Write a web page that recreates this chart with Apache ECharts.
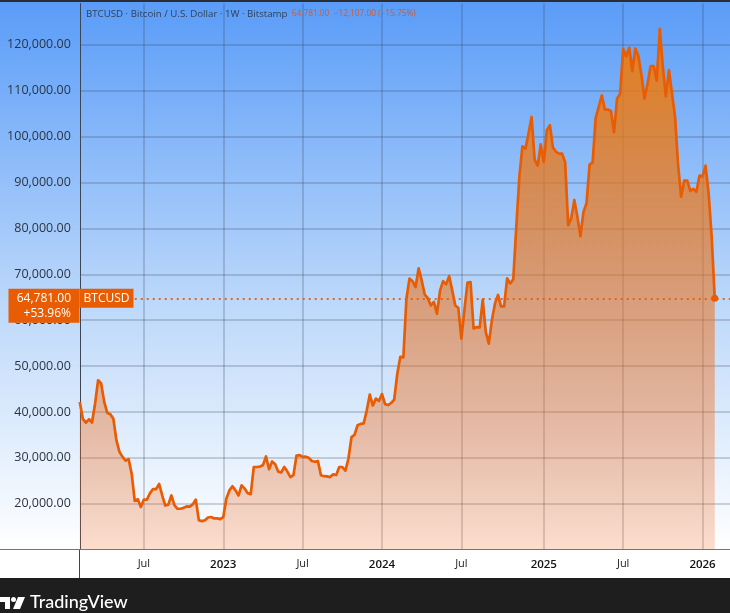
<!DOCTYPE html>
<html>
<head>
<meta charset="utf-8">
<title>BTCUSD</title>
<script src="https://cdn.jsdelivr.net/npm/echarts@6/dist/echarts.min.js"></script>
<style>
html, body { margin: 0; padding: 0; background: #fff; }
#main { width: 730px; height: 613px; }
</style>
</head>
<body>
<div id="main"></div>
<script>
// weekly closes, first bar = week of 2022-02-07
var prices = [
    42170,38500,37660,38400,37700,41800,46900,46200,42200,39800,
    39500,38500,33800,31300,30200,29400,29700,26500,20600,21000,
    19300,20900,20900,22300,23200,23200,24300,21800,19600,19800,
    21800,19700,18900,18900,19100,19400,19350,19850,20900,16400,
    16200,16400,17000,17100,16800,16800,16650,17100,21100,22900,
    23800,22900,21800,24000,23300,22300,22100,28000,28000,28100,
    28400,30300,27500,29200,28600,27000,26800,28000,27000,25800,
    26250,30500,30600,30200,30250,30000,29300,29150,29300,26200,
    26000,25950,25800,26400,26250,28000,28000,27200,29800,34500,
    35000,37100,37400,37500,40300,43800,41400,42900,42400,43900,
    41700,41500,41950,42700,48300,52000,51900,64700,69050,68500,
    67200,71300,68700,65600,64800,63200,64000,61400,66400,68500,
    67800,69600,66500,63200,62700,56000,62200,68200,68300,58200,
    58500,58400,64500,57400,54900,60000,63600,65500,63000,63000,
    69100,68000,68900,80400,91300,97900,97400,100700,104300,95000,
    93700,98300,94500,101400,102500,97600,96700,96300,96300,94400,
    80700,82200,86200,82600,78300,83600,85500,93900,94400,104100,
    106500,109000,105900,105900,105600,101000,108300,109300,119100,117500,
    119400,114300,119200,117500,113400,108300,111600,115400,115400,112200,
    123500,115200,108800,114500,109400,104300,93800,86900,90400,90400,
    88200,88600,88000,91500,91300,93700,87600,78200,64781
];
var tickLabels = {
    '2022-07-04': 'Jul', '2023-01-02': '2023', '2023-07-03': 'Jul', '2024-01-01': '2024',
    '2024-07-01': 'Jul', '2025-01-06': '2025', '2025-07-07': 'Jul', '2026-01-05': '2026'
};
var headerName = 'BTCUSD · Bitcoin / U.S. Dollar · 1W · Bitstamp';
var headerQuote = '64,781.00  −12,107.00 (−15.75%)';
var lastPrice = prices[prices.length - 1];
var lastPriceText = '64,781.00';
var lastChangeText = '+53.96%';

// weeks, with a few empty ones after the last bar
var weeks = [];
for (var i = 0; i < 214; i++) {
    weeks.push(new Date(Date.UTC(2022, 1, 7 + i * 7)).toISOString().slice(0, 10));
}
function isTick(index, name) {
    return tickLabels[name] !== undefined;
}

var uiFont = '"Open Sans", sans-serif';
var orange = '#e85d04';
var grid = 'rgba(60,70,90,0.3)';

var myChart = echarts.init(document.getElementById('main'));
var option = {
    animation: false,
    backgroundColor: '#fff',
    textStyle: { fontFamily: uiFont },
    title: {
        left: 86, top: 9, padding: 0,
        text: '{a|' + headerName + '}{b|  ' + headerQuote + '}',
        textStyle: {
            rich: {
                a: { fontFamily: uiFont, fontWeight: 400, fontSize: 9.7, color: '#2f4258' },
                b: { fontFamily: uiFont, fontWeight: 400, fontSize: 8.3, color: '#d9592a' }
            }
        }
    },
    graphic: [
        {
            type: 'rect', z: -10, silent: true,
            shape: { x: 0, y: 2, width: 730, height: 547 },
            style: {
                fill: new echarts.graphic.LinearGradient(0, 0, 0, 1, [
                    { offset: 0, color: '#5a9cf8' },
                    { offset: 0.55, color: '#bcd8fa' },
                    { offset: 1, color: '#ffffff' }
                ])
            }
        },
        { type: 'rect', z: -9, silent: true, shape: { x: 0, y: 0, width: 730, height: 2 }, style: { fill: '#2a2e39' } },
        { type: 'rect', z: 50, silent: true, shape: { x: 0, y: 578, width: 730, height: 35 }, style: { fill: '#1e1e1e' } },
        { type: 'line', z: 50, silent: true, shape: { x1: 79.5, y1: 549, x2: 79.5, y2: 578 }, style: { stroke: '#3a4656', lineWidth: 1 } },
        { type: 'line', z: 50, silent: true, shape: { x1: 0, y1: 549.5, x2: 730, y2: 549.5 }, style: { stroke: '#6f7680', lineWidth: 1 } },
        // TradingView logo
        { type: 'polygon', z: 51, silent: true, shape: { points: [[0, 597], [10, 597], [10, 609], [5, 609], [5, 602], [0, 602]] }, style: { fill: '#fff' } },
        { type: 'circle', z: 51, silent: true, shape: { cx: 13.5, cy: 599.5, r: 2.5 }, style: { fill: '#fff' } },
        { type: 'polygon', z: 51, silent: true, shape: { points: [[18, 597], [25, 597], [20, 609], [13, 609]] }, style: { fill: '#fff' } },
        {
            type: 'text', z: 51, silent: true, x: 30, y: 593,
            style: { text: 'TradingView', fill: '#fff', font: '500 18px Lato, sans-serif' }
        }
    ],
    grid: { left: 79.8, top: 3.6, width: 651.1, height: 546, show: false },
    xAxis: {
        type: 'category',
        data: weeks,
        boundaryGap: false,
        axisLine: { show: false },
        axisTick: { show: false },
        splitLine: { show: true, interval: isTick, lineStyle: { color: grid, width: 1.5 } },
        axisLabel: {
            interval: isTick,
            margin: 9,
            hideOverlap: false,
            formatter: function (value) {
                var t = tickLabels[value];
                return t === 'Jul' ? '{m|Jul}' : '{y|' + t + '}';
            },
            rich: {
                m: { fontFamily: uiFont, fontSize: 11, color: '#222' },
                y: { fontFamily: uiFont, fontSize: 11.5, fontWeight: 600, color: '#111' }
            }
        }
    },
    yAxis: {
        type: 'value',
        min: 10000,
        max: 129000,
        interval: 10000,
        axisLine: { show: true, lineStyle: { color: '#3a4656', width: 1 } },
        axisTick: { show: false },
        splitLine: { show: true, showMinLine: false, showMaxLine: false, lineStyle: { color: grid, width: 1.5 } },
        axisLabel: {
            margin: 9,
            showMinLabel: false,
            showMaxLabel: false,
            color: '#2a3542',
            fontFamily: uiFont,
            fontSize: 12.5,
            formatter: function (v) {
                return v.toLocaleString('en-US', { minimumFractionDigits: 2 });
            }
        }
    },
    series: [{
        name: 'BTCUSD',
        type: 'line',
        data: prices,
        symbol: 'none',
        smooth: false,
        lineStyle: { color: orange, width: 2.7, join: 'round' },
        areaStyle: {
            opacity: 1,
            color: new echarts.graphic.LinearGradient(0, 0, 0, 1, [
                { offset: 0, color: 'rgba(240,125,10,0.92)' },
                { offset: 1, color: 'rgba(240,100,30,0.22)' }
            ])
        },
        markLine: {
            silent: true,
            symbol: 'none',
            animation: false,
            label: { show: false },
            lineStyle: { color: orange, type: [2, 4], width: 2, opacity: 0.9 },
            data: [[{ coord: [18, lastPrice] }, { coord: [213, lastPrice] }]]
        },
        markPoint: {
            silent: true,
            animation: false,
            data: [
                {
                    coord: [prices.length - 1, lastPrice],
                    symbol: 'circle', symbolSize: 7,
                    itemStyle: { color: orange },
                    label: { show: false }
                },
                {
                    coord: [0, lastPrice],
                    symbol: 'rect', symbolSize: [71, 34], symbolOffset: [-35.8, 7.5],
                    itemStyle: { color: orange },
                    label: {
                        show: true, position: 'inside', offset: [27, 0],
                        formatter: lastPriceText + '\n' + lastChangeText,
                        color: '#fff', fontFamily: uiFont, fontSize: 12, fontWeight: 500,
                        lineHeight: 15, align: 'right'
                    }
                },
                {
                    coord: [0, lastPrice],
                    symbol: 'rect', symbolSize: [54, 19], symbolOffset: [26.7, 0],
                    itemStyle: { color: orange },
                    label: {
                        show: true, position: 'inside',
                        formatter: 'BTCUSD',
                        color: '#fff', fontFamily: uiFont, fontSize: 12, fontWeight: 500
                    }
                }
            ]
        }
    }]
};
myChart.setOption(option);
</script>
</body>
</html>
